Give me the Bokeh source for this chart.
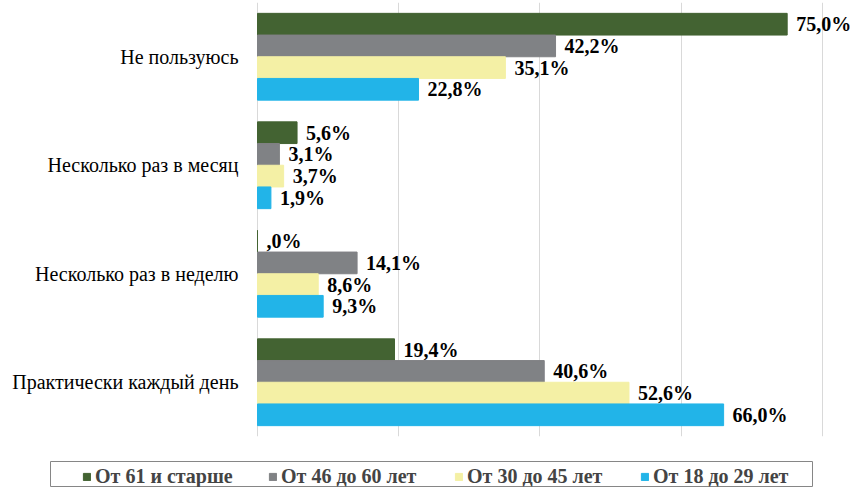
from bokeh.plotting import figure
from bokeh.layouts import column
from bokeh.models import FactorRange, Range1d, FixedTicker, Legend, LegendItem, ColumnDataSource
from bokeh.transform import dodge
from bokeh.core.properties import value
from bokeh.embed import file_html
from bokeh.resources import INLINE

categories = ["Не пользуюсь", "Несколько раз в месяц", "Несколько раз в неделю", "Практически каждый день"]
series_names = ["От 61 и старше", "От 46 до 60 лет", "От 30 до 45 лет", "От 18 до 29 лет"]
age_61_plus = [75.0, 5.6, 0.0, 19.4]
age_46_60 = [42.2, 3.1, 14.1, 40.6]
age_30_45 = [35.1, 3.7, 8.6, 52.6]
age_18_29 = [22.8, 1.9, 9.3, 66.0]
grid_ticks = [0, 20, 40, 60, 80]

series_values = [age_61_plus, age_46_60, age_30_45, age_18_29]
colors = ["#436332", "#808285", "#f4f0a5", "#22b4e8"]
offsets = [0.3, 0.1, -0.1, -0.3]

FONT = "Liberation Serif"


def fmt(v):
    s = f"{v:.1f}".replace(".", ",")
    if s.startswith("0,"):
        s = s[1:]
    return s + "%"


# frame spans the whole width; 0 sits 257 px from the left, 80 at 822 px
p = figure(width=859, height=461,
           y_range=FactorRange(*reversed(categories)),
           x_range=Range1d(-36.39, 85.24),
           output_backend="svg", toolbar_location=None,
           min_border_left=0, min_border_right=0,
           min_border_top=2, min_border_bottom=25, frame_align=False)

p.outline_line_color = None
p.xaxis.visible = False
p.yaxis.visible = False
p.xgrid.ticker = FixedTicker(ticks=grid_ticks)
p.xgrid.grid_line_color = "#d9d9d9"
p.ygrid.grid_line_color = None

# category labels, right-aligned just left of the zero line
p.text(x=0, y=categories, text=categories, x_offset=-19,
       text_baseline="middle", text_align="right",
       text_font=value(FONT), text_font_size="20px", text_color="black")

lf = figure(width=859, height=26, x_range=Range1d(0, 1), y_range=Range1d(0, 1),
            output_backend="svg", toolbar_location=None, frame_align=False,
            min_border_left=50, min_border_right=47, min_border_top=0, min_border_bottom=0)
lf.axis.visible = False
lf.grid.visible = False
lf.outline_line_color = "#868686"

items = []
for name, vals, col, off in zip(series_names, series_values, colors, offsets):
    src = ColumnDataSource(dict(cat=categories, val=vals, lab=[fmt(v) for v in vals]))
    p.hbar(y=dodge("cat", off, range=p.y_range), right="val", left=0, height=0.2,
           source=src, fill_color=col, line_color=col)
    p.text(x="val", y=dodge("cat", off, range=p.y_range), text="lab", source=src,
           x_offset=9, text_baseline="middle", text_align="left",
           text_font=value(FONT), text_font_style="bold", text_font_size="20px",
           text_color="black")
    # zero-size proxy glyph so that the legend swatch has something to draw
    r = lf.hbar(y=[0], right=[0], left=[0], height=0, fill_color=col, line_color=col)
    items.append(LegendItem(label=name, renderers=[r]))

legend = Legend(items=items, orientation="horizontal", location=(32, -1), margin=0,
                glyph_width=9, glyph_height=9, label_standoff=4, spacing=32,
                padding=0, label_width=141, label_height=24,
                label_text_font=FONT, label_text_font_size="20px",
                label_text_font_style="bold",
                border_line_color=None, background_fill_alpha=0)
lf.add_layout(legend)

open("out.html", "w").write(file_html(column(p, lf), INLINE))
